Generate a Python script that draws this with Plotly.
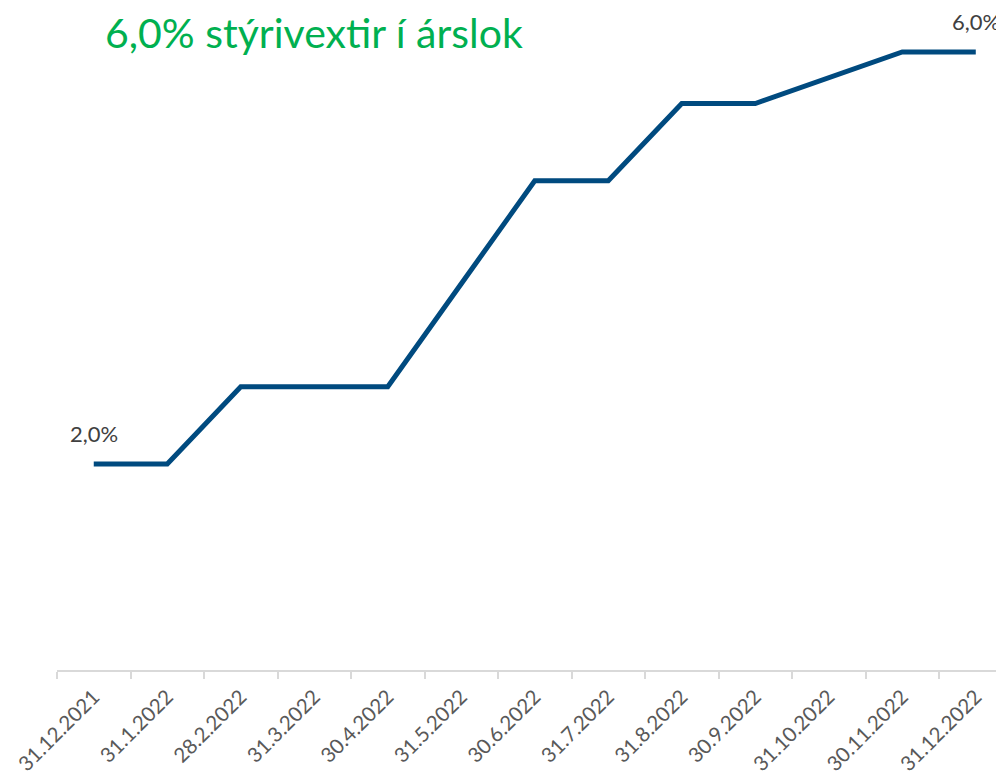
import plotly.graph_objects as go

categories = ["31.12.2021", "31.1.2022", "28.2.2022", "31.3.2022", "30.4.2022",
              "31.5.2022", "30.6.2022", "31.7.2022", "31.8.2022", "30.9.2022",
              "31.10.2022", "30.11.2022", "31.12.2022"]
policy_rate = [2.0, 2.0, 2.75, 2.75, 2.75, 3.75, 4.75, 4.75, 5.5, 5.5, 5.75, 6.0, 6.0]
labelled_idx = [0, 12]
title_text = "6,0% stýrivextir í árslok"

FONT = "Lato, 'Open Sans', sans-serif"

# the page body has an 8px margin, so the figure is sized/positioned to compensate
W, H = 996, 770

fig = go.Figure()
fig.add_trace(go.Scatter(
    x=categories, y=policy_rate, mode="lines",
    line=dict(color="#004A7F", width=5),
    hoverinfo="skip", showlegend=False,
))

for i in labelled_idx:
    fig.add_annotation(
        x=categories[i], y=policy_rate[i],
        text=f"{policy_rate[i]:.1f}%".replace(".", ","),
        showarrow=False, yanchor="bottom", yshift=15,
        font=dict(family=FONT, size=22, color="#404040"),
    )

fig.update_layout(
    width=W, height=H,
    margin=dict(l=49, r=0, t=0, b=108, autoexpand=False),
    paper_bgcolor="white", plot_bgcolor="white",
    title=dict(text=title_text, x=97 / W, xref="container", xanchor="left",
               y=1 - 26 / H, yref="container", yanchor="middle",
               font=dict(family=FONT, size=41, color="#00B050")),
    xaxis=dict(
        type="category", range=[-0.5, 12.384],
        showline=True, linecolor="#D9D9D9", linewidth=1.5,
        ticks="outside", tickson="boundaries", ticklen=7, tickcolor="#D9D9D9", tickwidth=1.5,
        tickangle=-45, showgrid=False, zeroline=False, ticklabelstandoff=5,
        tickfont=dict(family=FONT, size=20.5, color="#595959"),
    ),
    yaxis=dict(range=[0, 662 / 103], visible=False, showgrid=False, zeroline=False),
)

fig.write_html("out.html")
